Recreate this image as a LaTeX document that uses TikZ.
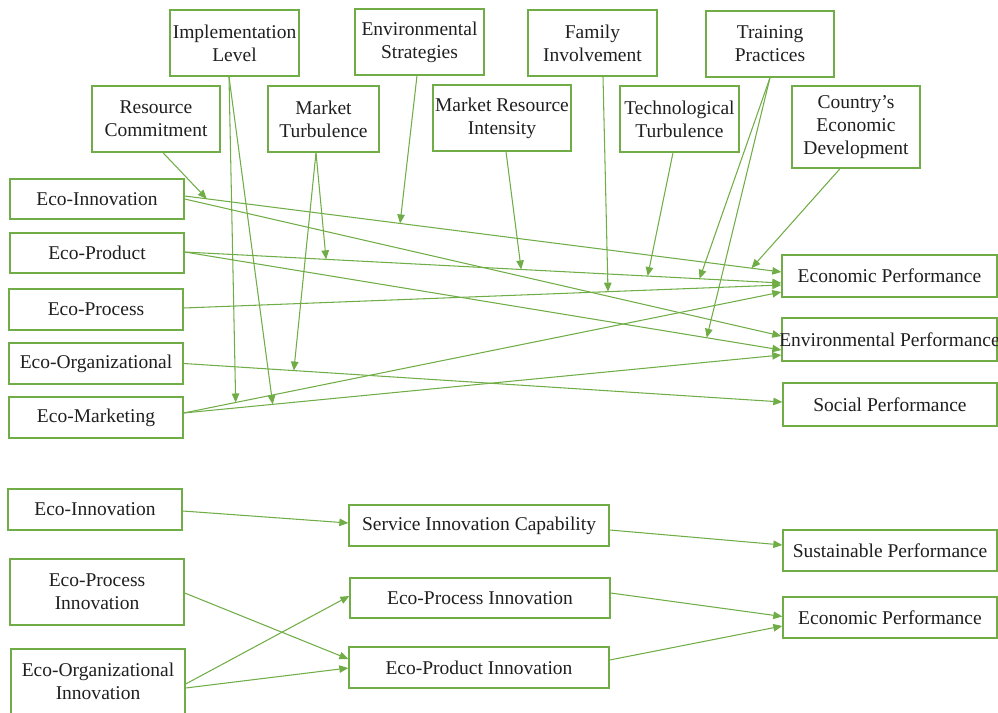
\documentclass[tikz,border=0pt]{standalone}
\usepackage{fontspec}
\setmainfont{Liberation Serif}
\usetikzlibrary{arrows.meta,calc}
\definecolor{ecogreen}{HTML}{70AD47}
\definecolor{textdark}{HTML}{1F1F1F}

\begin{document}
\begin{tikzpicture}[
  x=0.02cm, y=-0.02cm,
  box/.style={rectangle, draw=ecogreen, line width=0.8pt, align=center, inner sep=0pt, text=textdark, font=\fontsize{11.1}{13.1}\selectfont},
  arrow/.style={-{Triangle[length=1.8mm, width=1.5mm]}, draw=ecogreen, line width=0.6pt}
]
\useasboundingbox (0,0) rectangle (998,713);

% moderators
\node[box, minimum width=2.58cm, minimum height=1.32cm] (impl) at (234.5,43) {Implementation\\Level};
\node[box, minimum width=2.58cm, minimum height=1.32cm] (envstrat) at (419.5,42) {Environmental\\Strategies};
\node[box, minimum width=2.58cm, minimum height=1.32cm] (family) at (592.5,43) {Family\\Involvement};
\node[box, minimum width=2.56cm, minimum height=1.32cm] (training) at (770,44) {Training\\Practices};
\node[box, minimum width=2.56cm, minimum height=1.32cm] (rescom) at (156,119) {Resource\\Commitment};
\node[box, minimum width=2.22cm, minimum height=1.32cm] (mturb) at (323.5,119) {Market\\Turbulence};
\node[box, minimum width=2.76cm, minimum height=1.32cm] (mresint) at (502,118) {Market Resource\\Intensity};
\node[box, minimum width=2.38cm, minimum height=1.32cm] (techturb) at (679.5,119) {Technological\\Turbulence};
\node[box, minimum width=2.56cm, minimum height=1.64cm] (country) at (856,127) {Country’s\\Economic\\Development};

% eco-innovation types
\node[box, minimum width=3.48cm, minimum height=0.8cm] (ecoinn) at (97,199) {Eco-Innovation};
\node[box, minimum width=3.48cm, minimum height=0.8cm] (ecoprod) at (97,253) {Eco-Product};
\node[box, minimum width=3.48cm, minimum height=0.82cm] (ecoproc) at (96,309.5) {Eco-Process};
\node[box, minimum width=3.48cm, minimum height=0.82cm] (ecoorg) at (96,363.5) {Eco-Organizational};
\node[box, minimum width=3.48cm, minimum height=0.82cm] (ecomkt) at (96,417.5) {Eco-Marketing};

% performance
\node[box, minimum width=4.3cm, minimum height=0.84cm] (econ) at (889.5,276) {Economic Performance};
\node[box, minimum width=4.3cm, minimum height=0.86cm] (envperf) at (889.5,339.5) {\makebox[0pt]{Environmental Performance}};
\node[box, minimum width=4.28cm, minimum height=0.86cm] (social) at (890,404.5) {Social Performance};

% main paths
\draw[arrow] ($(ecoinn.east)+(0,-3)$) -- coordinate[pos=0.037] (rcpt) coordinate[pos=0.361] (espt) coordinate[pos=0.95] (cdpt) ($(econ.west)+(0,-4)$);
\draw[arrow] (ecoinn.east) -- ($(envperf.west)+(0,-3.5)$);
\draw[arrow] ($(ecoprod.east)+(0,-1)$) -- coordinate[pos=0.237] (mtpta) coordinate[pos=0.564] (mript) coordinate[pos=0.776] (ttpt) coordinate[pos=0.863] (trpta) ($(econ.west)+(0,7)$);
\draw[arrow] ($(ecoprod.east)+(0,-1)$) -- coordinate[pos=0.875] (trptb) ($(envperf.west)+(0,10.5)$);
\draw[arrow] ($(ecoproc.east)+(0,-1.5)$) -- coordinate[pos=0.71] (fipt) ($(econ.west)+(0,9)$);
\draw[arrow] (ecoorg.east) -- coordinate[pos=0.184] (mtptb) ($(social.west)+(0,-2.5)$);
\draw[arrow] ($(ecomkt.east)+(0,-4.5)$) -- coordinate[pos=0.087] (ilpta) ($(econ.west)+(0,16)$);
\draw[arrow] ($(ecomkt.east)+(0,-4.5)$) -- coordinate[pos=0.149] (ilptb) ($(envperf.west)+(0,15.5)$);

% moderating effects
\draw[arrow] ($(rescom.south)+(7,0)$) -- (rcpt);
\draw[arrow] ($(impl.south)+(-5.5,0)$) -- (ilpta);
\draw[arrow] ($(impl.south)+(-5.5,0)$) -- (ilptb);
\draw[arrow] ($(mturb.south)+(-7.5,0)$) -- (mtpta);
\draw[arrow] ($(mturb.south)+(-7.5,0)$) -- (mtptb);
\draw[arrow] ($(envstrat.south)+(-2.5,0)$) -- (espt);
\draw[arrow] ($(mresint.south)+(4,0)$) -- (mript);
\draw[arrow] ($(family.south)+(10.5,0)$) -- (fipt);
\draw[arrow] ($(techturb.south)+(-6.5,0)$) -- (ttpt);
\draw[arrow] (training.south) -- (trpta);
\draw[arrow] (training.south) -- (trptb);
\draw[arrow] ($(country.south)+(-16,0)$) -- (cdpt);

% second model
\node[box, minimum width=3.48cm, minimum height=0.82cm] (ecoinnb) at (95,509.5) {Eco-Innovation};
\node[box, minimum width=3.48cm, minimum height=1.32cm] (procinn) at (97,592) {Eco-Process\\Innovation};
\node[box, minimum width=3.48cm, minimum height=1.3cm] (orginn) at (98,681.5) {Eco-Organizational\\Innovation};
\node[box, minimum width=5.2cm, minimum height=0.82cm] (servcap) at (479,525.5) {Service Innovation Capability};
\node[box, minimum width=5.2cm, minimum height=0.8cm] (procmid) at (480,598) {Eco-Process Innovation};
\node[box, minimum width=5.2cm, minimum height=0.82cm] (prodmid) at (479,667.5) {Eco-Product Innovation};
\node[box, minimum width=4.28cm, minimum height=0.82cm] (sustperf) at (890,550.5) {Sustainable Performance};
\node[box, minimum width=4.28cm, minimum height=0.82cm] (econb) at (890,617.5) {Economic Performance};

\draw[arrow] ($(ecoinnb.east)+(0,1.5)$) -- ($(servcap.west)+(0,-2.5)$);
\draw[arrow] ($(servcap.east)+(0,4.5)$) -- ($(sustperf.west)+(0,-5.5)$);
\draw[arrow] ($(procinn.east)+(0,1)$) -- ($(prodmid.west)+(0,-8.5)$);
\draw[arrow] ($(orginn.east)+(0,2.5)$) -- ($(procmid.west)+(0,-2)$);
\draw[arrow] ($(orginn.east)+(0,6.5)$) -- ($(prodmid.west)+(0,0.5)$);
\draw[arrow] ($(procmid.east)+(0,-5)$) -- ($(econb.west)+(0,-1)$);
\draw[arrow] ($(prodmid.east)+(0,-7.5)$) -- ($(econb.west)+(0,8.5)$);
\end{tikzpicture}
\end{document}
